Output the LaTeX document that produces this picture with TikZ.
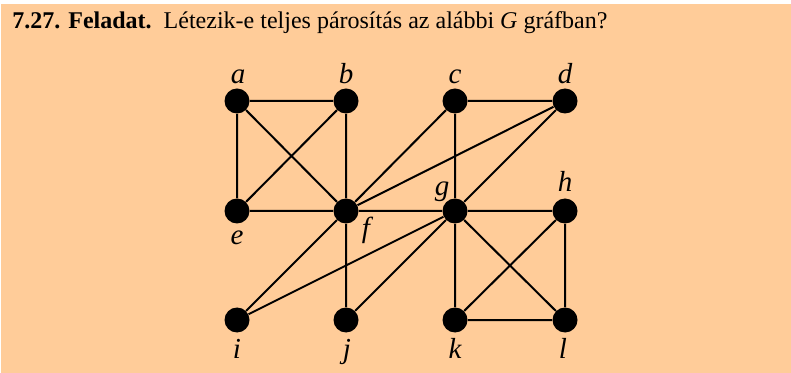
\documentclass[tikz,border=0pt]{standalone}
\usepackage{fontspec}
\setmainfont{Liberation Serif}
\usepackage{xcolor}
\definecolor{gpeach}{RGB}{255,204,153}
\usetikzlibrary{positioning}

\begin{document}
\begin{tikzpicture}[x=0.5pt,y=-0.5pt,font=\fontsize{12}{14}\selectfont,
  vertex/.style={circle,fill=black,inner sep=0pt,minimum size=12.5pt},
  vlabel/.style={anchor=base,inner sep=0pt,font=\fontsize{14.5}{16}\selectfont\itshape},
  edge/.style={line width=1pt}]
  \useasboundingbox (0,0) rectangle (791,373);
  \fill[gpeach] (1,4) rectangle (791,373);
  % title
  \node[anchor=base west,inner sep=0pt] (title) at (12,29) {\textbf{7.27. Feladat.}\enspace Létezik-e teljes párosítás az alábbi \textit{G} gráfban?};
  % vertices
  \node[vertex] (a) at (237,101) {};
  \node[vertex] (b) at (346,101) {};
  \node[vertex] (c) at (455,101) {};
  \node[vertex] (d) at (565,101) {};
  \node[vertex] (e) at (237,211) {};
  \node[vertex] (f) at (346,211) {};
  \node[vertex] (g) at (455,211) {};
  \node[vertex] (h) at (565,211) {};
  \node[vertex] (i) at (237,320) {};
  \node[vertex] (j) at (346,320) {};
  \node[vertex] (k) at (455,320) {};
  \node[vertex] (l) at (565,320) {};
  % vertex labels
  \node[vlabel] (la) at (238,84) {a};
  \node[vlabel] (lb) at (346,84) {b};
  \node[vlabel] (lc) at (455,84) {c};
  \node[vlabel] (ld) at (565,84) {d};
  \node[vlabel] (le) at (237,245) {e};
  \node[vlabel] (lf) at (366,238) {f};
  \node[vlabel] (lg) at (442,196) {g};
  \node[vlabel] (lh) at (565,192) {h};
  \node[vlabel] (li) at (237,358) {i};
  \node[vlabel] (lj) at (347,358) {j};
  \node[vlabel] (lk) at (455,358) {k};
  \node[vlabel] (ll) at (563,358) {l};
  % edges
  \draw[edge] (a)--(b) (a)--(e) (a)--(f) (b)--(e) (b)--(f) (e)--(f);
  \draw[edge] (c)--(d) (c)--(f) (c)--(g) (d)--(f) (d)--(g) (f)--(g) (g)--(h);
  \draw[edge] (f)--(i) (f)--(j) (g)--(i) (g)--(j);
  \draw[edge] (g)--(k) (g)--(l) (h)--(k) (h)--(l) (k)--(l);
\end{tikzpicture}
\end{document}
